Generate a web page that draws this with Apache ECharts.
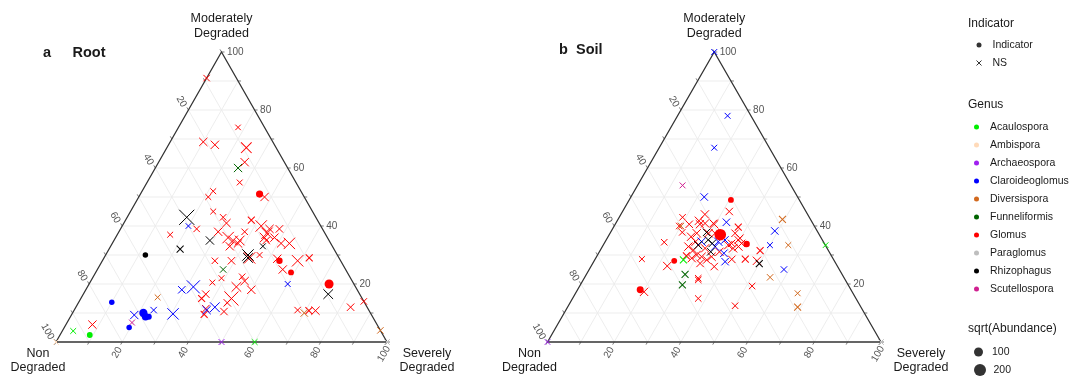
<!DOCTYPE html>
<html><head><meta charset="utf-8">
<script src="https://cdn.jsdelivr.net/npm/echarts@6/dist/echarts.min.js"></script>
<style>html,body{margin:0;padding:0;background:#fff}#c{width:1074px;height:378px}</style>
</head><body><div id="c"></div>
<script>
// ---------- categories ----------
const genusNames  = ['Acaulospora','Ambispora','Archaeospora','Claroideoglomus','Diversispora','Funneliformis','Glomus','Paraglomus','Rhizophagus','Scutellospora'];
const genusCodes  = ['A','Am','Ar','C','D','F','G','P','R','S'];
const genusColors = ['#00ee00','#ffdab9','#a020f0','#0000ff','#d2691e','#006400','#ff0000','#bebebe','#000000','#d02090'];
const indicatorLabels = ['Indicator','NS'];
const sizeLegendValues = [100, 200];
const tickValues  = [0,10,20,30,40,50,60,70,80,90,100];
const tickLabels  = [20,40,60,80,100];
const gridSteps   = [10,20,30,40,50,60,70,80,90];
const vertexNames = ['Moderately\nDegraded','Non\nDegraded','Severely\nDegraded'];
const panelLetters = ['a','b'];
const panelNames   = ['Root','Soil'];

// ---------- Root panel: genus, indicator(1) / NS(0), % Moderately, % Severely, sqrt(Abundance) ----------
const rootGenus = [
 'G','G','G','G','G','G','F','G','G','G',
 'G','G','G','G','R','C','G','G','G','G',
 'G','G','G','G','G','G','R','G','G','G',
 'G','G','G','G','G','G','G','R','R','R',
 'G','G','R','R','G','G','G','G','G','G',
 'G','G','F','G','G','G','G','G','G','G',
 'G','G','G','G','G','C','C','G','C','C',
 'C','C','C','C','C','C','C','C','S','D',
 'G','A','A','Am','Ar','A','G','G','R','G',
 'G','D','G','G','D','C','P'];
const rootIndicator = [
 0,0,0,0,0,0,0,0,0,0,
 1,0,0,0,0,0,0,0,0,0,
 0,0,0,0,0,0,0,0,0,0,
 0,0,0,0,0,0,0,0,0,1,
 0,0,0,0,0,0,1,0,0,0,
 0,1,0,0,0,0,0,0,0,0,
 0,0,0,0,0,0,0,0,0,0,
 0,0,0,1,1,1,1,1,0,0,
 0,0,1,0,0,0,0,0,0,1,
 0,0,0,0,0,0,0];
const rootModerately = [
 91,74,69,68,67,62,60,55,52,50,
 51,50,45,43,43,40,39,41,42,40,
 39,39,37.5,38,38,37,35,36,35,35,
 33,34,36,36,34,34,35,33,32,30,
 28,28,30,29,29,30,28,28.7,28,29,
 25,24,25,22,22.5,21,20.5,19,18,15,
 13.5,16.5,15,11.5,9.5,11,12,10.5,19,18,
 9.7,11,9.3,10,8.7,8.7,13.7,5,6.7,15.4,
 6,3.8,2.4,0,0,0,14,12,16.5,20,
 11,10,10.8,10.8,4,20,0];
const rootSeverely = [
 0,18,10,14,24,26,25,28,21.5,21,
 36,38,25,29,18,20,23,31,38,42,
 45,48,45,30,38,16,29,34,36,38,
 36,38,45,48,51,53.5,46,46,21.5,12,
 34,39,43,43.5,44,46.5,53.5,52.5,59,62,
 56,59,38,39,45,46.5,37,45,50,45.5,
 45,37,36.5,39.5,40,40,42,45.5,32,29,
 30.5,24,19,21.4,22.7,23.7,10,19.6,19.6,23,
 8,3.3,9,0,50,60,86,83,74,72.5,
 67.5,70,71,73,96,60,100];
const rootSqrtAbundance = [
 40,25,80,80,150,80,80,30,30,30,
 55,80,30,40,350,25,40,80,50,180,
 80,60,180,80,40,30,80,180,120,120,
 80,80,120,80,80,180,60,30,50,25,
 40,60,180,120,180,30,40,80,180,50,
 80,30,40,30,40,80,30,120,80,300,
 60,60,50,60,50,80,120,60,250,60,
 180,40,80,80,60,30,25,25,30,30,
 80,30,30,25,30,30,40,60,120,100,
 40,60,50,80,40,30,25];

// ---------- Soil panel ----------
const soilGenus = [
 'C','C','C','S','C','G','G','D','C','C',
 'G','G','G','D','G','G','G','G','G','A',
 'F','F','G','G','G','G','G','G','D','D',
 'D','C','R','G','G','G','C','D','A','G',
 'Ar','P','G','G','G','G','G','G','G','G',
 'R','G','G','G','G','G','C','R','R','C',
 'C','G','G','G','G','G','R','G','R','C',
 'G','C','G','G','G','G','G','G','G','C',
 'G','G','G','G','G','G','G','G'];
const soilIndicator = [
 0,0,0,0,0,1,0,0,0,0,
 0,0,0,0,0,0,0,1,0,0,
 0,0,1,0,0,0,0,0,0,0,
 0,0,0,0,0,0,0,0,0,1,
 0,0,0,0,0,0,0,0,0,0,
 0,0,0,0,0,0,0,0,0,0,
 0,0,0,0,0,0,0,0,0,0,
 0,0,0,0,0,0,0,0,0,0,
 0,0,0,0,0,0,0,1];
const soilModerately = [
 100,78,67,54,50,49,45,42.3,41.3,38.3,
 39.6,43,40,40,37.8,34.4,28.6,28,26.2,28.3,
 23.3,19.7,18,17.3,21.4,15,12.5,19.3,22.3,16.8,
 12,25,27,28,28.6,31.5,33.4,33.4,33.4,33.8,
 0,0,44,41.8,40.6,40.6,40.9,40.6,37.5,37.5,
 37.8,37.5,37.5,35.8,36.3,34.6,34.6,35.2,34,34.6,
 35.2,33.4,34,32.9,32.9,31.7,33.4,32.3,31.1,32.9,
 31.1,30.6,30,29.4,28.3,29.4,28.9,27.1,26,27.7,
 28.5,22,40.9,29.7,35.2,34,32.3,37];
const soilSeverely = [
 0,15,16.5,13.5,22,30.5,32,49.3,33,49,
 37.4,19,19.5,20,21.5,17.8,14,24,22.8,26.6,
 29.6,30.6,18.8,20.3,34.5,37.7,50,51.7,55.6,66.6,
 69,58.4,50,48.8,45,48,50,55.5,66.7,42.8,
 0,100,25.2,24.5,22.2,25.4,26.8,29.7,26,29.5,
 28.8,31.5,37.5,39.8,24.9,27.1,28.9,30.6,32.4,33.9,
 35.6,37.5,38.2,40.8,25.8,27.9,28.5,31.1,33.4,33.8,
 36,37.6,29.7,31.5,33.6,34.5,28.8,32.2,37,39.4,
 41,34.2,29.3,26.8,39.6,41.2,39.5,33.3];
const soilSqrtAbundance = [
 30,30,30,30,60,30,60,50,60,60,
 50,40,40,40,40,40,30,30,80,50,
 50,50,50,80,40,40,40,40,40,30,
 50,40,50,80,50,50,30,30,25,40,
 25,25,80,80,60,80,80,80,80,80,
 60,80,60,60,80,80,80,60,60,80,
 60,80,60,80,80,80,80,80,60,80,
 80,60,80,80,60,80,80,60,60,60,
 60,40,60,50,60,60,80,190];

// ---------- helpers ----------
const FONT = '"Liberation Sans", Arial, Helvetica, sans-serif';
const crossPath = 'path://M0,0L10,10M10,0L0,10';
const tern = (mod, sev) => [sev + mod / 2, mod];   // ternary -> cartesian (percent units)
const sizeOf = v => 2 + 0.7 * Math.sqrt(v);

function txt(x, y, text, o) {
  o = o || {};
  return {
    type: 'text', x: x, y: y, rotation: o.rot || 0, silent: true,
    style: {
      text: text, fill: o.color || '#1a1a1a', fontSize: o.size || 12, fontFamily: FONT,
      fontWeight: o.weight || 'normal', lineHeight: o.lh || undefined,
      align: o.align || 'center', verticalAlign: o.valign || 'middle',
      textAlign: o.align || 'center', textVerticalAlign: o.valign || 'middle'
    }
  };
}
function seg(a, b, stroke, w) {
  return { type: 'line', silent: true, shape: { x1: a[0], y1: a[1], x2: b[0], y2: b[1] }, style: { stroke: stroke, lineWidth: w } };
}

function frameSeries(panel, titlePos) {
  return {
    type: 'custom', xAxisIndex: panel, yAxisIndex: panel, silent: true, z: 1, clip: false,
    data: [[50, 50]],
    renderItem: function (params, api) {
      const P = (m, s) => api.coord(tern(m, s));
      const ch = [];
      const gc = '#ebebeb';
      gridSteps.forEach(k => {
        ch.push(seg(P(k, 0), P(k, 100 - k), gc, 0.9));          // constant Moderately
        ch.push(seg(P(0, k), P(100 - k, k), gc, 0.9));          // constant Severely
        ch.push(seg(P(0, 100 - k), P(100 - k, 0), gc, 0.9));    // constant Non
      });
      const L = P(0, 0), R = P(0, 100), T = P(100, 0);
      ch.push({ type: 'polygon', silent: true, shape: { points: [L, R, T] }, style: { fill: 'none', stroke: '#333', lineWidth: 1.3 } });
      const tl = 3, c60 = 0.5, s60 = 0.866, tc = '#444';
      tickValues.forEach(k => {
        const pr = P(k, 100 - k);                    // right edge: Moderately
        ch.push(seg(pr, [pr[0] + tl, pr[1]], tc, 0.7));
        const pb = P(0, k);                          // bottom edge: Severely
        ch.push(seg(pb, [pb[0] - tl * c60, pb[1] + tl * s60], tc, 0.7));
        const pl = P(100 - k, 0);                    // left edge: Non
        ch.push(seg(pl, [pl[0] - tl * c60, pl[1] - tl * s60], tc, 0.7));
      });
      const lc = '#555', ls = 10;
      tickLabels.forEach(k => {
        const s = String(k), n = s.length;
        const pr = P(k, 100 - k);
        ch.push(txt(pr[0] + 5.5, pr[1], s, { color: lc, size: ls, align: 'left' }));
        const pb = P(0, k);
        ch.push(txt(pb[0] - 9 + 2 * n, pb[1] + 7.5 + 1.5 * n, s, { color: lc, size: ls, rot: Math.PI / 3 }));
        const pl = P(100 - k, 0);
        ch.push(txt(pl[0] - 4 - 1.5 * n, pl[1] - 4.3 - 2 * n, s, { color: lc, size: ls, rot: -Math.PI / 3 }));
      });
      ch.push(txt(T[0], T[1] - 26, vertexNames[0], { size: 12.5, lh: 14.5 }));
      ch.push(txt(L[0] - 18, L[1] + 18.5, vertexNames[1], { size: 12.5, lh: 14.5 }));
      ch.push(txt(R[0] + 40, R[1] + 18.5, vertexNames[2], { size: 12.5, lh: 14.5 }));
      ch.push(txt(titlePos[0], titlePos[2], panelLetters[panel], { size: 14.5, weight: 'bold', align: 'left' }));
      ch.push(txt(titlePos[1], titlePos[2], panelNames[panel], { size: 14.5, weight: 'bold', align: 'left' }));
      return { type: 'group', children: ch };
    }
  };
}

function pointSeries(panel, gen, ind, mod, sev, ab, circles) {
  const order = ['G', 'A', 'Am', 'Ar', 'C', 'D', 'F', 'P', 'R', 'S'];
  return order.map(code => {
    const gi = genusCodes.indexOf(code), col = genusColors[gi];
    const data = [];
    gen.forEach((g, i) => {
      if (g !== code || (ind[i] === 1) !== circles) return;
      data.push({
        value: tern(mod[i], sev[i]),
        symbol: circles ? 'circle' : crossPath,
        symbolSize: sizeOf(ab[i]),
        itemStyle: circles ? { color: col } : { color: col, borderColor: col, borderWidth: 1 }
      });
    });
    return {
      name: genusNames[gi], type: 'scatter', xAxisIndex: panel, yAxisIndex: panel,
      z: circles ? 4 : 3, silent: true, symbolKeepAspect: true,
      itemStyle: { color: col, opacity: 1 }, data: data
    };
  });
}

const dummy = (name, symbol, extra) => Object.assign({ name: name, type: 'scatter', data: [], symbol: symbol, itemStyle: { color: '#000' } }, extra || {});

const legendText = { fontSize: 10.5, fontFamily: FONT, color: '#1a1a1a', lineHeight: 18 };
const option = {
  animation: false,
  backgroundColor: '#fff',
  grid: [
    { left: 56, top: 52, width: 331, height: 290 },
    { left: 547.5, top: 52, width: 333.5, height: 290 }
  ],
  xAxis: [0, 1].map(i => ({ gridIndex: i, type: 'value', min: 0, max: 100, show: false })),
  yAxis: [0, 1].map(i => ({ gridIndex: i, type: 'value', min: 0, max: 100, show: false })),
  legend: [
    { orient: 'vertical', left: 969, top: 31, itemWidth: 17, itemHeight: 5, itemGap: 0, selectedMode: false, textStyle: legendText,
      data: [{ name: indicatorLabels[0], icon: 'circle' },
             { name: indicatorLabels[1], icon: crossPath, itemStyle: { color: 'none', borderColor: '#000', borderWidth: 1 } }] },
    { orient: 'vertical', left: 969, top: 113, itemWidth: 17, itemHeight: 5, itemGap: 0, selectedMode: false, textStyle: legendText,
      data: genusNames.map(n => ({ name: n, icon: 'circle' })) },
    { orient: 'vertical', left: 969, top: 338, itemWidth: 17, itemHeight: 9, itemGap: 0, selectedMode: false, textStyle: legendText,
      data: [{ name: String(sizeLegendValues[0]), icon: 'circle' }] },
    { orient: 'vertical', left: 969, top: 356, itemWidth: 17, itemHeight: 12, itemGap: 0, selectedMode: false, textStyle: legendText,
      data: [{ name: String(sizeLegendValues[1]), icon: 'circle' }] }
  ],
  graphic: [
    { type: 'text', left: 968, top: 18, silent: true, style: { text: 'Indicator', fontSize: 12, fontFamily: FONT, fill: '#1a1a1a' } },
    { type: 'text', left: 968, top: 99, silent: true, style: { text: 'Genus', fontSize: 12, fontFamily: FONT, fill: '#1a1a1a' } },
    { type: 'text', left: 968, top: 323, silent: true, style: { text: 'sqrt(Abundance)', fontSize: 12, fontFamily: FONT, fill: '#1a1a1a' } }
  ],
  series: [].concat(
    [frameSeries(0, [43, 72.5, 53]), frameSeries(1, [559, 576, 50])],
    pointSeries(0, rootGenus, rootIndicator, rootModerately, rootSeverely, rootSqrtAbundance, false),
    pointSeries(1, soilGenus, soilIndicator, soilModerately, soilSeverely, soilSqrtAbundance, false),
    pointSeries(0, rootGenus, rootIndicator, rootModerately, rootSeverely, rootSqrtAbundance, true),
    pointSeries(1, soilGenus, soilIndicator, soilModerately, soilSeverely, soilSqrtAbundance, true),
    [dummy(indicatorLabels[0], 'circle'),
     dummy(indicatorLabels[1], crossPath, { itemStyle: { color: '#000', borderColor: '#000', borderWidth: 1 } }),
     dummy(String(sizeLegendValues[0]), 'circle'),
     dummy(String(sizeLegendValues[1]), 'circle')]
  )
};
const chart = echarts.init(document.getElementById('c'), null, { renderer: 'canvas' });
chart.setOption(option);
</script>
</body></html>
